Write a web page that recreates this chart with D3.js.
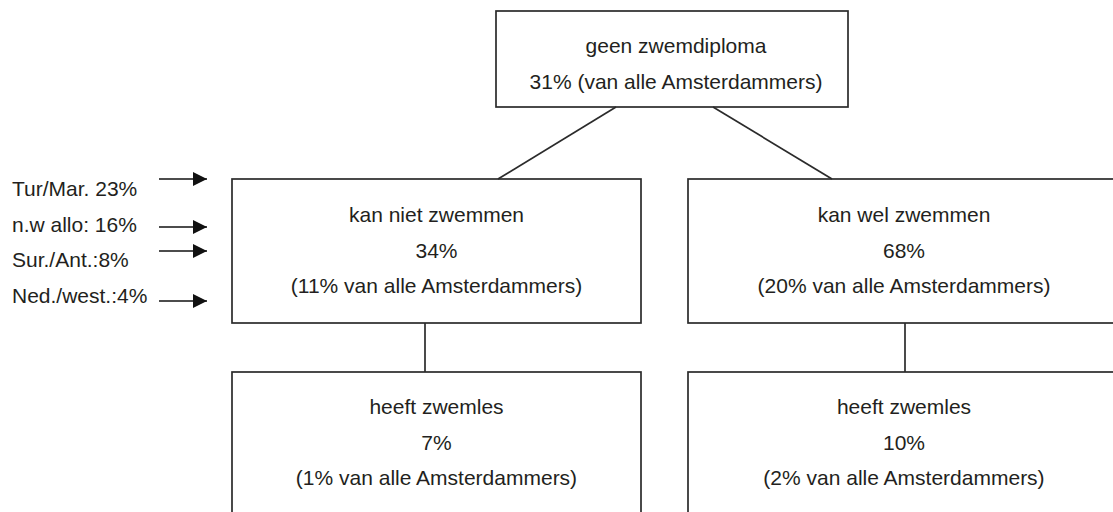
<!DOCTYPE html>
<html>
<head>
<meta charset="utf-8">
<script src="https://cdn.jsdelivr.net/npm/d3@7"></script>
<style>
  body { margin: 0; background: #fff; }
  text { font-family: "Liberation Sans", Arial, sans-serif; fill: #231f20; }
</style>
</head>
<body>
<div id="chart"></div>
<script>
// teksten per blok (boom: top -> twee kinderen -> elk één kind)
const nodeTitles = ["geen zwemdiploma", "kan niet zwemmen", "kan wel zwemmen", "heeft zwemles", "heeft zwemles"];
const nodePct = [null, 34, 68, 7, 10];
const nodeAllPct = [31, 11, 20, 1, 2];
const nodeParent = [null, 0, 0, 1, 2];

// herkomstgroepen naast "kan niet zwemmen"
const groupLabels = ["Tur/Mar. ", "n.w allo: ", "Sur./Ant.:", "Ned./west.:"];
const groupPct = [23, 16, 8, 4];

const width = 1113, height = 512;
const stroke = "#2b2b2b";
const fontSize = 21;

const svg = d3.select("#chart").append("svg")
    .attr("width", width)
    .attr("height", height);

svg.append("defs").append("marker")
    .attr("id", "pijl")
    .attr("viewBox", "0 0 14 14")
    .attr("refX", 14).attr("refY", 7)
    .attr("markerWidth", 14).attr("markerHeight", 14)
    .attr("markerUnits", "userSpaceOnUse")
    .attr("orient", "auto")
  .append("path")
    .attr("d", "M0,0 L14,7 L0,14 Z")
    .attr("fill", "#111");

// plaats van de blokken (x0, y0, x1, y1)
const boxes = [
    { x0: 496, y0: 11, x1: 848, y1: 107, tx: 676, ty: 53 },
    { x0: 232, y0: 179, x1: 641, y1: 323, tx: 436.5, ty: 222 },
    { x0: 688, y0: 179, x1: 1120, y1: 323, tx: 904, ty: 222 },
    { x0: 232, y0: 372, x1: 641, y1: 560, tx: 436.5, ty: 414 },
    { x0: 688, y0: 372, x1: 1120, y1: 560, tx: 904, ty: 414 }
];

const nodes = nodeTitles.map((t, i) => {
    const lines = [t];
    if (nodePct[i] === null) {
        lines.push(nodeAllPct[i] + "% (van alle Amsterdammers)");
    } else {
        lines.push(nodePct[i] + "%");
        lines.push("(" + nodeAllPct[i] + "% van alle Amsterdammers)");
    }
    return { id: i, parent: nodeParent[i], lines, box: boxes[i] };
});

// verbindingslijnen
const links = [
    { x1: 616, y1: 107, x2: 498, y2: 179 },
    { x1: 713, y1: 107, x2: 832, y2: 179 },
    { x1: 425, y1: 323, x2: 425, y2: 372 },
    { x1: 905, y1: 323, x2: 905, y2: 372 }
];

svg.selectAll(".link")
    .data(links)
    .enter()
    .append("line")
        .attr("class", "link")
        .attr("x1", d => d.x1).attr("y1", d => d.y1)
        .attr("x2", d => d.x2).attr("y2", d => d.y2)
        .attr("stroke", stroke)
        .attr("stroke-width", 1.7);

const g = svg.selectAll(".node")
    .data(nodes)
    .enter()
    .append("g")
        .attr("class", "node");

g.append("rect")
    .attr("x", d => d.box.x0)
    .attr("y", d => d.box.y0)
    .attr("width", d => d.box.x1 - d.box.x0)
    .attr("height", d => d.box.y1 - d.box.y0)
    .attr("fill", "none")
    .attr("stroke", stroke)
    .attr("stroke-width", 1.7);

g.each(function(d) {
    d3.select(this).selectAll("text")
        .data(d.lines)
        .enter()
        .append("text")
            .attr("x", d.box.tx)
            .attr("y", (l, j) => d.box.ty + j * 35.7)
            .attr("text-anchor", "middle")
            .style("font-size", fontSize + "px")
            .text(l => l);
});

// groepen links met pijlen
const labelY = d3.scalePoint().domain(groupLabels).range([196, 303]);
const arrowY = [179, 227, 251, 301];

svg.selectAll(".groep")
    .data(groupLabels)
    .enter()
    .append("text")
        .attr("class", "groep")
        .attr("x", 12)
        .attr("y", d => labelY(d))
        .style("font-size", fontSize + "px")
        .text((d, i) => d + groupPct[i] + "%");

svg.selectAll(".pijl")
    .data(groupLabels)
    .enter()
    .append("line")
        .attr("class", "pijl")
        .attr("x1", 159).attr("x2", 207)
        .attr("y1", (d, i) => arrowY[i])
        .attr("y2", (d, i) => arrowY[i])
        .attr("stroke", "#111")
        .attr("stroke-width", 1.7)
        .attr("marker-end", "url(#pijl)");
</script>
</body>
</html>
